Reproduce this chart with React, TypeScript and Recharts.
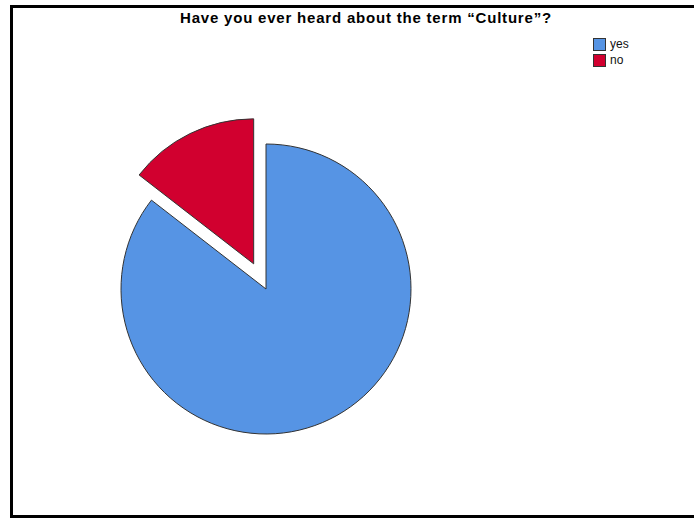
import { PieChart, Pie, Cell } from "recharts";

const categories = ["yes", "no"];
const percents = [85.5, 14.5];
const colors = ["#5694E4", "#D1002F"];
const explodedIndex = 1;

const data = categories.map((name, i) => ({ name, value: percents[i] }));

const CX = 266;
const CY = 289;
const RADIUS = 145;
const EXPLODE = 28;
const START = 90;
const END = -270;

// offset of the pulled-out slice, along its middle angle
const total = percents.reduce((a, b) => a + b, 0);
const before = percents.slice(0, explodedIndex).reduce((a, b) => a + b, 0);
const midFrac = (before + percents[explodedIndex] / 2) / total;
const midDeg = START + (END - START) * midFrac;
const dx = Math.cos((midDeg * Math.PI) / 180) * EXPLODE;
const dy = -Math.sin((midDeg * Math.PI) / 180) * EXPLODE;

export default function App() {
  return (
    <div
      style={{
        position: "absolute",
        left: 0,
        top: 0,
        width: 694,
        height: 518,
        overflow: "hidden",
        background: "#fff",
        fontFamily: "'Liberation Sans', Arial, sans-serif",
      }}
    >
      <div
        style={{
          position: "absolute",
          left: 10,
          top: 5,
          width: 720,
          height: 507,
          border: "3px solid #000",
        }}
      />
      <div
        style={{
          position: "absolute",
          left: 180,
          top: 9,
          whiteSpace: "nowrap",
          fontWeight: "bold",
          fontSize: 15,
          letterSpacing: 0.8,
          color: "#000",
        }}
      >
        Have you ever heard about the term “Culture”?
      </div>
      <div style={{ position: "absolute", left: 593, top: 36 }}>
        {categories.map((c, i) => (
          <div
            key={c}
            style={{ display: "flex", alignItems: "center", height: 16, fontSize: 12, color: "#111" }}
          >
            <span
              style={{
                width: 11,
                height: 11,
                background: colors[i],
                border: "1px solid #333",
                marginRight: 4,
              }}
            />
            <span>{c}</span>
          </div>
        ))}
      </div>
      <div style={{ position: "absolute", left: 0, top: 0 }}>
        <PieChart width={694} height={518} margin={{ top: 0, right: 0, bottom: 0, left: 0 }}>
          <Pie
            data={data}
            dataKey="value"
            nameKey="name"
            cx={CX}
            cy={CY}
            outerRadius={RADIUS}
            startAngle={START}
            endAngle={END}
            isAnimationActive={false}
            legendType="none"
          >
            {data.map((d, i) => (
              <Cell
                key={d.name}
                fill={i === explodedIndex ? "none" : colors[i]}
                stroke={i === explodedIndex ? "none" : "#333"}
                strokeWidth={1}
              />
            ))}
          </Pie>
          <Pie
            data={data}
            dataKey="value"
            nameKey="name"
            cx={CX + dx}
            cy={CY + dy}
            outerRadius={RADIUS}
            startAngle={START}
            endAngle={END}
            isAnimationActive={false}
            legendType="none"
          >
            {data.map((d, i) => (
              <Cell
                key={d.name}
                fill={i === explodedIndex ? colors[i] : "none"}
                stroke={i === explodedIndex ? "#333" : "none"}
                strokeWidth={1}
              />
            ))}
          </Pie>
        </PieChart>
      </div>
    </div>
  );
}
